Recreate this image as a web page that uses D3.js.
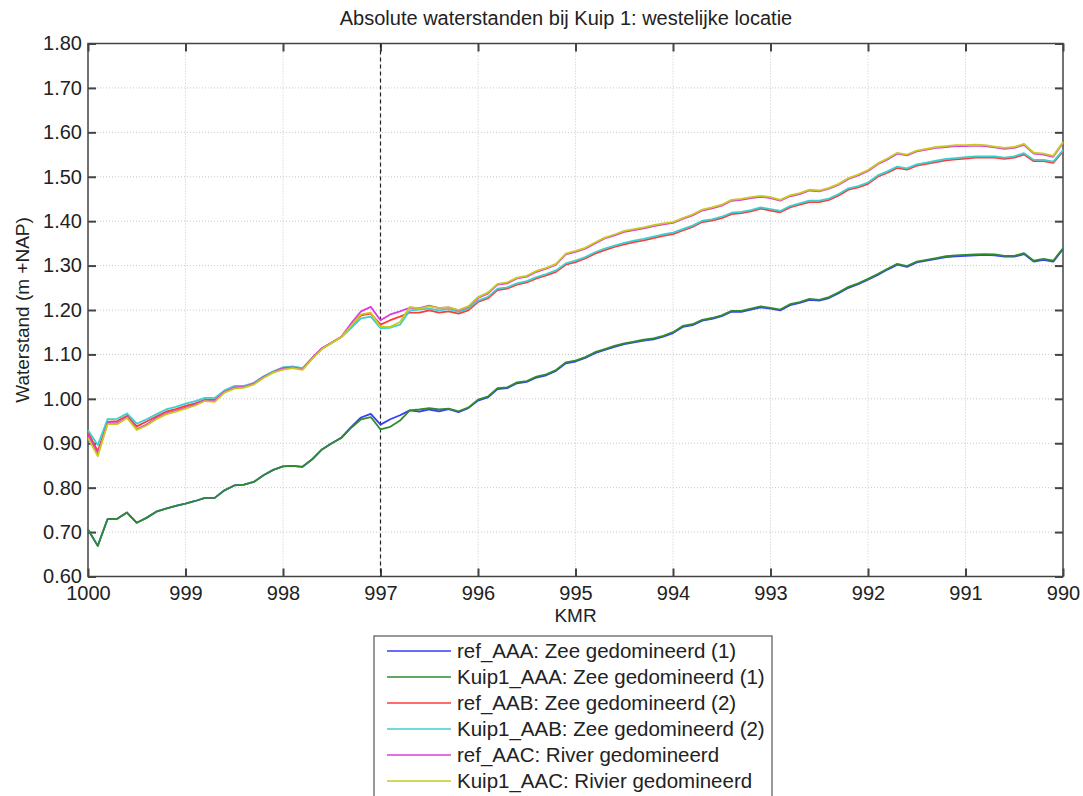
<!DOCTYPE html>
<html>
<head>
<meta charset="utf-8">
<script src="https://cdn.jsdelivr.net/npm/d3@7/dist/d3.min.js"></script>
<style>
  html, body { margin: 0; padding: 0; background: #fff; }
  svg { display: block; font-family: Arial, "Liberation Sans", sans-serif; }
</style>
</head>
<body>
<svg id="chart" width="1083" height="796"></svg>
<script>
// River kilometre positions (KMR), west to east
const kmr = [1000.0, 999.9, 999.8, 999.7, 999.6, 999.5, 999.4, 999.3, 999.2, 999.1,
  999.0, 998.9, 998.8, 998.7, 998.6, 998.5, 998.4, 998.3, 998.2, 998.1,
  998.0, 997.9, 997.8, 997.7, 997.6, 997.5, 997.4, 997.3, 997.2, 997.1,
  997.0, 996.9, 996.8, 996.7, 996.6, 996.5, 996.4, 996.3, 996.2, 996.1,
  996.0, 995.9, 995.8, 995.7, 995.6, 995.5, 995.4, 995.3, 995.2, 995.1,
  995.0, 994.9, 994.8, 994.7, 994.6, 994.5, 994.4, 994.3, 994.2, 994.1,
  994.0, 993.9, 993.8, 993.7, 993.6, 993.5, 993.4, 993.3, 993.2, 993.1,
  993.0, 992.9, 992.8, 992.7, 992.6, 992.5, 992.4, 992.3, 992.2, 992.1,
  992.0, 991.9, 991.8, 991.7, 991.6, 991.5, 991.4, 991.3, 991.2, 991.1,
  991.0, 990.9, 990.8, 990.7, 990.6, 990.5, 990.4, 990.3, 990.2, 990.1,
  990.0];

// Water levels (m +NAP) per scenario
const refAAA = [0.706, 0.669, 0.729, 0.730, 0.744, 0.721, 0.732, 0.746, 0.753, 0.759,
  0.764, 0.770, 0.777, 0.777, 0.794, 0.805, 0.807, 0.813, 0.828, 0.840,
  0.848, 0.849, 0.847, 0.864, 0.886, 0.900, 0.913, 0.937, 0.958, 0.966,
  0.942, 0.954, 0.963, 0.974, 0.971, 0.976, 0.972, 0.977, 0.970, 0.979,
  0.996, 1.003, 1.022, 1.024, 1.035, 1.038, 1.048, 1.053, 1.063, 1.080,
  1.084, 1.092, 1.103, 1.110, 1.117, 1.123, 1.127, 1.131, 1.134, 1.140,
  1.148, 1.162, 1.166, 1.176, 1.180, 1.186, 1.196, 1.196, 1.201, 1.206,
  1.203, 1.199, 1.211, 1.216, 1.223, 1.221, 1.227, 1.238, 1.250, 1.258,
  1.268, 1.279, 1.291, 1.302, 1.297, 1.307, 1.311, 1.315, 1.319, 1.321,
  1.322, 1.323, 1.324, 1.323, 1.320, 1.320, 1.326, 1.309, 1.313, 1.309,
  1.337];

const kuip1AAA = [0.706, 0.669, 0.729, 0.730, 0.744, 0.721, 0.732, 0.746, 0.753, 0.759,
  0.764, 0.770, 0.777, 0.777, 0.794, 0.805, 0.807, 0.813, 0.828, 0.840,
  0.848, 0.849, 0.847, 0.864, 0.886, 0.900, 0.912, 0.935, 0.954, 0.959,
  0.931, 0.937, 0.951, 0.974, 0.976, 0.979, 0.976, 0.978, 0.972, 0.980,
  0.998, 1.005, 1.024, 1.026, 1.037, 1.040, 1.050, 1.055, 1.065, 1.082,
  1.086, 1.094, 1.105, 1.112, 1.119, 1.125, 1.129, 1.133, 1.136, 1.142,
  1.150, 1.164, 1.168, 1.178, 1.182, 1.188, 1.198, 1.198, 1.203, 1.208,
  1.205, 1.201, 1.213, 1.218, 1.225, 1.223, 1.229, 1.240, 1.252, 1.260,
  1.270, 1.281, 1.293, 1.304, 1.299, 1.309, 1.313, 1.317, 1.321, 1.323,
  1.324, 1.325, 1.326, 1.325, 1.322, 1.322, 1.328, 1.311, 1.315, 1.311,
  1.339];

const refAAB = [0.925, 0.882, 0.948, 0.950, 0.962, 0.938, 0.949, 0.960, 0.971, 0.977,
  0.984, 0.990, 0.998, 0.998, 1.016, 1.026, 1.027, 1.034, 1.049, 1.061,
  1.070, 1.072, 1.068, 1.092, 1.114, 1.127, 1.140, 1.164, 1.188, 1.192,
  1.167, 1.177, 1.185, 1.194, 1.194, 1.199, 1.194, 1.197, 1.192, 1.199,
  1.218, 1.226, 1.245, 1.248, 1.257, 1.262, 1.271, 1.278, 1.286, 1.302,
  1.308, 1.316, 1.327, 1.335, 1.342, 1.348, 1.353, 1.357, 1.362, 1.367,
  1.371, 1.379, 1.387, 1.398, 1.401, 1.407, 1.416, 1.418, 1.422, 1.428,
  1.424, 1.420, 1.431, 1.437, 1.443, 1.443, 1.448, 1.458, 1.471, 1.476,
  1.484, 1.500, 1.509, 1.520, 1.516, 1.525, 1.529, 1.533, 1.537, 1.539,
  1.541, 1.543, 1.543, 1.543, 1.540, 1.543, 1.550, 1.535, 1.535, 1.531,
  1.557];

const kuip1AAB = [0.929, 0.896, 0.954, 0.955, 0.967, 0.944, 0.954, 0.965, 0.976, 0.982,
  0.989, 0.995, 1.002, 1.002, 1.019, 1.029, 1.029, 1.036, 1.051, 1.062,
  1.071, 1.073, 1.069, 1.091, 1.113, 1.126, 1.139, 1.160, 1.181, 1.185,
  1.159, 1.160, 1.167, 1.199, 1.201, 1.203, 1.199, 1.202, 1.196, 1.203,
  1.221, 1.229, 1.248, 1.251, 1.260, 1.265, 1.274, 1.281, 1.289, 1.305,
  1.311, 1.319, 1.330, 1.338, 1.345, 1.351, 1.356, 1.360, 1.365, 1.370,
  1.374, 1.382, 1.390, 1.401, 1.404, 1.410, 1.419, 1.421, 1.425, 1.431,
  1.427, 1.423, 1.434, 1.440, 1.446, 1.446, 1.451, 1.461, 1.474, 1.479,
  1.487, 1.503, 1.512, 1.523, 1.519, 1.528, 1.532, 1.536, 1.540, 1.542,
  1.544, 1.546, 1.546, 1.546, 1.543, 1.546, 1.553, 1.538, 1.538, 1.534,
  1.560];

const refAAC = [0.918, 0.876, 0.945, 0.945, 0.959, 0.932, 0.942, 0.956, 0.967, 0.973,
  0.980, 0.987, 0.997, 0.995, 1.016, 1.025, 1.027, 1.034, 1.049, 1.060,
  1.069, 1.071, 1.067, 1.092, 1.114, 1.127, 1.140, 1.170, 1.197, 1.207,
  1.177, 1.190, 1.197, 1.205, 1.204, 1.210, 1.204, 1.206, 1.199, 1.207,
  1.227, 1.237, 1.257, 1.260, 1.271, 1.275, 1.286, 1.293, 1.302, 1.325,
  1.331, 1.338, 1.350, 1.361, 1.368, 1.376, 1.380, 1.384, 1.389, 1.393,
  1.396, 1.405, 1.413, 1.424, 1.429, 1.435, 1.446, 1.448, 1.452, 1.455,
  1.452, 1.446, 1.456, 1.461, 1.469, 1.467, 1.473, 1.482, 1.495, 1.503,
  1.513, 1.528, 1.539, 1.552, 1.548, 1.557, 1.561, 1.565, 1.567, 1.569,
  1.569, 1.570, 1.569, 1.566, 1.563, 1.565, 1.572, 1.552, 1.550, 1.545,
  1.576];

const kuip1AAC = [0.912, 0.871, 0.943, 0.943, 0.957, 0.930, 0.940, 0.954, 0.965, 0.971,
  0.978, 0.985, 0.995, 0.993, 1.014, 1.023, 1.025, 1.032, 1.047, 1.059,
  1.066, 1.069, 1.065, 1.090, 1.112, 1.126, 1.139, 1.165, 1.190, 1.194,
  1.162, 1.162, 1.173, 1.207, 1.203, 1.208, 1.205, 1.206, 1.200, 1.208,
  1.229, 1.239, 1.259, 1.262, 1.273, 1.277, 1.288, 1.295, 1.304, 1.327,
  1.333, 1.340, 1.352, 1.363, 1.370, 1.378, 1.382, 1.386, 1.391, 1.395,
  1.398, 1.407, 1.415, 1.426, 1.431, 1.437, 1.448, 1.450, 1.454, 1.457,
  1.454, 1.448, 1.458, 1.463, 1.471, 1.469, 1.475, 1.484, 1.497, 1.505,
  1.515, 1.530, 1.541, 1.554, 1.550, 1.559, 1.563, 1.567, 1.569, 1.571,
  1.571, 1.572, 1.571, 1.568, 1.565, 1.567, 1.574, 1.554, 1.552, 1.547,
  1.578];

const seriesNames = [
  "ref_AAA: Zee gedomineerd (1)",
  "Kuip1_AAA: Zee gedomineerd (1)",
  "ref_AAB: Zee gedomineerd (2)",
  "Kuip1_AAB: Zee gedomineerd (2)",
  "ref_AAC: River gedomineerd",
  "Kuip1_AAC: Rivier gedomineerd"
];
const seriesValues = [refAAA, kuip1AAA, refAAB, kuip1AAB, refAAC, kuip1AAC];
const seriesColors = ["#3a3aff", "#2e8b2e", "#ff3a3a", "#3ccfcf", "#dd3cdd", "#c9c922"];

const xTicks = [1000, 999, 998, 997, 996, 995, 994, 993, 992, 991, 990];
const yTicks = [0.6, 0.7, 0.8, 0.9, 1.0, 1.1, 1.2, 1.3, 1.4, 1.5, 1.6, 1.7, 1.8];
const markerKm = 997;

const svg = d3.select("#chart");
const plot = { left: 88, right: 1063, top: 43.5, bottom: 576.5 };

const x = d3.scaleLinear().domain([1000, 990]).range([plot.left, plot.right]);
const y = d3.scaleLinear().domain([0.6, 1.8]).range([plot.bottom, plot.top]);

// Dotted grid
const grid = svg.append("g");
grid.selectAll("line.gx").data(xTicks.slice(1, -1)).join("line")
  .attr("x1", d => x(d)).attr("x2", d => x(d))
  .attr("y1", plot.top).attr("y2", plot.bottom)
  .attr("stroke", "#c8c8c8").attr("stroke-width", 1).attr("stroke-dasharray", "1,2");
grid.selectAll("line.gy").data(yTicks.slice(1, -1)).join("line")
  .attr("x1", plot.left).attr("x2", plot.right)
  .attr("y1", d => y(d)).attr("y2", d => y(d))
  .attr("stroke", "#c8c8c8").attr("stroke-width", 1).attr("stroke-dasharray", "1,2");

// Axes with inward ticks on all four sides
const tickLen = 8;
const axisColor = "#444";
const axBottom = svg.append("g").attr("transform", `translate(0,${plot.bottom})`)
  .call(d3.axisBottom(x).tickValues(xTicks).tickFormat(d3.format("d")).tickSizeInner(-tickLen).tickSizeOuter(0).tickPadding(9));
const axTop = svg.append("g").attr("transform", `translate(0,${plot.top})`)
  .call(d3.axisTop(x).tickValues(xTicks).tickFormat("").tickSizeInner(-tickLen).tickSizeOuter(0));
const axLeft = svg.append("g").attr("transform", `translate(${plot.left},0)`)
  .call(d3.axisLeft(y).tickValues(yTicks).tickFormat(d3.format(".2f")).tickSizeInner(-tickLen).tickSizeOuter(0).tickPadding(6));
const axRight = svg.append("g").attr("transform", `translate(${plot.right},0)`)
  .call(d3.axisRight(y).tickValues(yTicks).tickFormat("").tickSizeInner(-tickLen).tickSizeOuter(0));

[axBottom, axTop, axLeft, axRight].forEach(g => {
  g.select(".domain").remove();
  g.selectAll(".tick line").attr("stroke", axisColor).attr("stroke-width", 2);
  g.selectAll(".tick text").attr("fill", "#222").attr("font-size", 20)
    .attr("font-family", "Arial, 'Liberation Sans', sans-serif");
});
axLeft.selectAll(".tick text").attr("dy", "0.32em");

// Plot frame
svg.append("rect")
  .attr("x", plot.left).attr("y", plot.top)
  .attr("width", plot.right - plot.left).attr("height", plot.bottom - plot.top)
  .attr("fill", "none").attr("stroke", axisColor).attr("stroke-width", 1.5);

// Dashed marker at the Kuip 1 location
svg.append("line")
  .attr("x1", x(markerKm)).attr("x2", x(markerKm))
  .attr("y1", plot.top).attr("y2", plot.bottom)
  .attr("stroke", "#222").attr("stroke-width", 1.2).attr("stroke-dasharray", "4,3");

// Water level lines
const line = d3.line().x((d, i) => x(kmr[i])).y(d => y(d));
svg.append("g").selectAll("path").data(seriesValues).join("path")
  .attr("d", d => line(d))
  .attr("fill", "none")
  .attr("stroke", (d, i) => seriesColors[i])
  .attr("stroke-width", 1.8)
  .attr("stroke-linejoin", "round");

// Titles
svg.append("text").attr("x", 566).attr("y", 25)
  .attr("text-anchor", "middle").attr("font-size", 20).attr("fill", "#222")
  .text("Absolute waterstanden bij Kuip 1: westelijke locatie");
svg.append("text").attr("x", (plot.left + plot.right) / 2).attr("y", 622)
  .attr("text-anchor", "middle").attr("font-size", 19).attr("fill", "#222")
  .text("KMR");
svg.append("text")
  .attr("transform", `translate(29,${(plot.top + plot.bottom) / 2}) rotate(-90)`)
  .attr("text-anchor", "middle").attr("font-size", 19).attr("fill", "#222")
  .text("Waterstand (m +NAP)");

// Legend
const legend = svg.append("g");
const lg = { x: 374, y: 636, w: 398, h: 164, row: 26, first: 651 };
legend.append("rect").attr("x", lg.x).attr("y", lg.y).attr("width", lg.w).attr("height", lg.h)
  .attr("fill", "#fff").attr("stroke", "#555").attr("stroke-width", 1.2);
const items = legend.selectAll("g.item").data(seriesNames).join("g")
  .attr("transform", (d, i) => `translate(0,${lg.first + i * lg.row})`);
items.append("line").attr("x1", 387).attr("x2", 451).attr("y1", 0).attr("y2", 0)
  .attr("stroke", (d, i) => seriesColors[i]).attr("stroke-width", 1.4);
items.append("text").attr("x", 457).attr("y", 0).attr("dy", "0.35em")
  .attr("font-size", 20.5).attr("fill", "#222").text(d => d);
</script>
</body>
</html>
